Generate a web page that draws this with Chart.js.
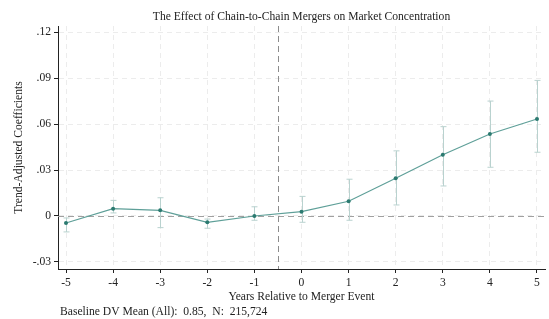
<!DOCTYPE html>
<html>
<head>
<meta charset="utf-8">
<script src="https://cdn.jsdelivr.net/npm/chart.js@4/dist/chart.umd.min.js"></script>
<style>
  html, body { margin: 0; padding: 0; background: #fff; }
  #wrap { width: 549px; height: 319px; position: relative; }
</style>
</head>
<body>
<div id="wrap"><canvas id="chart"></canvas></div>
<script>
/* event-study coefficients */
const years = [-5, -4, -3, -2, -1, 0, 1, 2, 3, 4, 5];
const coefs = [-0.0046, 0.0048, 0.0037, -0.0041, 0.0, 0.0028, 0.0096, 0.0246, 0.0400, 0.0535, 0.0633];
const ciLow = [-0.0104, 0.0020, -0.0076, -0.0080, -0.0028, -0.0041, -0.0028, 0.0072, 0.0196, 0.0318, 0.0416];
const ciHigh = [-0.0013, 0.0102, 0.0119, -0.0020, 0.0060, 0.0128, 0.0240, 0.0425, 0.0583, 0.0750, 0.0885];

const yTicks = [-0.03, 0, 0.03, 0.06, 0.09, 0.12];
const yTickLabels = ["-.03", "0", ".03", ".06", ".09", ".12"];
const xTicks = years;

const eventLine = -0.5;
const titleText = "The Effect of Chain-to-Chain Mergers on Market Concentration";
const noteText = "Baseline DV Mean (All):  0.85,  N:  215,724";

const serif = "'Liberation Serif', 'DejaVu Serif', serif";
const fs = 11.6;

// error bars, reference lines, title and note
const extras = {
  id: "extras",
  beforeDatasetsDraw(chart) {
    const { ctx, chartArea, scales } = chart;
    const x = scales.x, y = scales.y;
    ctx.save();

    // zero line
    ctx.strokeStyle = "#a0a0a0";
    ctx.lineWidth = 1;
    ctx.setLineDash([6, 4]);
    ctx.beginPath();
    const y0 = Math.round(y.getPixelForValue(0)) + 0.5;
    ctx.moveTo(chartArea.left, y0);
    ctx.lineTo(chartArea.right, y0);
    ctx.stroke();

    // merger event line
    ctx.strokeStyle = "#8c8c8c";
    ctx.beginPath();
    const xe = Math.round(x.getPixelForValue(eventLine)) + 0.5;
    ctx.moveTo(xe, chartArea.top);
    ctx.lineTo(xe, chartArea.bottom);
    ctx.stroke();

    // confidence intervals
    ctx.setLineDash([]);
    ctx.strokeStyle = "#b9d2cf";
    ctx.lineWidth = 1;
    years.forEach((yr, i) => {
      const px = Math.round(x.getPixelForValue(yr)) + 0.5;
      const lo = y.getPixelForValue(ciLow[i]);
      const hi = y.getPixelForValue(ciHigh[i]);
      ctx.beginPath();
      ctx.moveTo(px, lo);
      ctx.lineTo(px, hi);
      ctx.moveTo(px - 3, hi);
      ctx.lineTo(px + 3, hi);
      ctx.moveTo(px - 3, lo);
      ctx.lineTo(px + 3, lo);
      ctx.stroke();
    });
    ctx.restore();
  },
  afterDraw(chart) {
    const { ctx, chartArea } = chart;
    ctx.save();
    ctx.fillStyle = "#222";
    ctx.font = fs + "px " + serif;
    ctx.textBaseline = "middle";
    ctx.textAlign = "center";
    ctx.fillText(titleText, (chartArea.left + chartArea.right) / 2, 16.5);
    ctx.textAlign = "left";
    ctx.fillText(noteText, chartArea.left + 2, 312);
    ctx.restore();
  }
};

new Chart(document.getElementById("chart"), {
  type: "line",
  data: {
    datasets: [{
      data: years.map((yr, i) => ({ x: yr, y: coefs[i] })),
      parsing: false,
      borderColor: "#5e9f98",
      borderWidth: 1.2,
      tension: 0,
      pointRadius: 2,
      pointBorderWidth: 0,
      pointBackgroundColor: "#2b7a70",
      fill: false
    }]
  },
  options: {
    responsive: true,
    maintainAspectRatio: false,
    animation: false,
    layout: { padding: { left: 0, right: 1, top: 26, bottom: 13 } },
    plugins: {
      legend: { display: false },
      tooltip: { enabled: false },
      title: { display: false }
    },
    scales: {
      x: {
        type: "linear",
        min: -5.17,
        max: 5.17,
        afterBuildTicks: (scale) => { scale.ticks = xTicks.map(v => ({ value: v })); },
        afterFit: (scale) => { scale.height = 37; },
        ticks: {
          color: "#222",
          font: { family: serif, size: fs },
          padding: 3,
          maxRotation: 0,
          callback: (v) => String(v)
        },
        grid: { color: "#ececec", tickColor: "#222", tickLength: 4, lineWidth: 1 },
        border: { display: true, color: "#222", width: 1, dash: [5, 4] },
        title: {
          display: true,
          text: "Years Relative to Merger Event",
          color: "#222",
          font: { family: serif, size: fs },
          padding: { top: 0, bottom: 2 }
        }
      },
      y: {
        min: -0.0346,
        max: 0.124,
        afterBuildTicks: (scale) => { scale.ticks = yTicks.map(v => ({ value: v })); },
        afterFit: (scale) => { scale.width = 58; },
        ticks: {
          color: "#222",
          font: { family: serif, size: fs },
          padding: 3,
          callback: (v) => yTickLabels[yTicks.findIndex(t => Math.abs(t - v) < 1e-9)] ?? ""
        },
        grid: { color: "#ececec", tickColor: "#222", tickLength: 4, lineWidth: 1 },
        border: { display: true, color: "#222", width: 1, dash: [5, 4] },
        title: {
          display: true,
          text: "Trend-Adjusted Coefficients",
          color: "#222",
          font: { family: serif, size: fs },
          padding: { top: 12, bottom: 0 }
        }
      }
    }
  },
  plugins: [extras]
});
</script>
</body>
</html>
